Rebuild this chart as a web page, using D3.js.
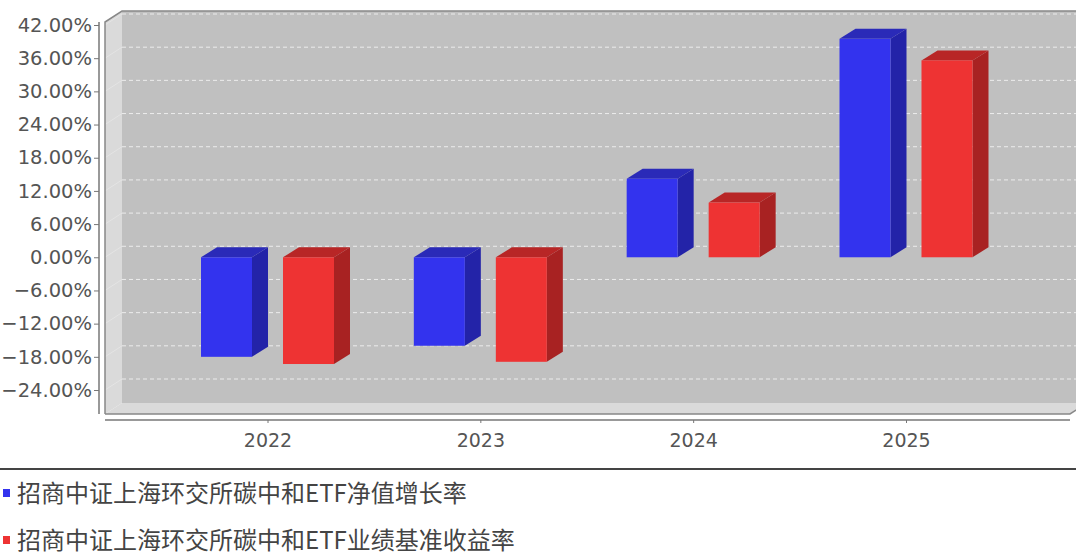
<!DOCTYPE html>
<html><head><meta charset="utf-8">
<script src="https://cdn.jsdelivr.net/npm/d3@7"></script>
<style>html,body{margin:0;padding:0;background:#fff;}svg{display:block;}</style>
</head><body>
<svg id="c" width="1076" height="560"></svg>
<script>
const years = ["2022","2023","2024","2025"];
const seriesNames = ["招商中证上海环交所碳中和ETF净值增长率","招商中证上海环交所碳中和ETF业绩基准收益率"];
const navGrowth = [-18.0, -16.0, 14.2, 39.5];
const benchmark = [-19.3, -18.9, 9.9, 35.6];
const yTicks = [42,36,30,24,18,12,6,0,-6,-12,-18,-24];

const colors = [
  {front:"#3333ee", side:"#2323a8", top:"#2a2ab8"},
  {front:"#ee3333", side:"#a82222", top:"#b82626"}
];

const svg = d3.select("#c");
const W = 1076;
const fx0 = 105, fx1 = 1070, fy0 = 22, fy1 = 414; // front plane
const dx = 17, dy = 11; // wall depth
const bdx = 16, bdy = 10; // bar depth

const y = d3.scaleLinear().domain([-24, 42]).range([390, 25]);
const x = d3.scalePoint().domain(years).range([267.5, 906]);
const xi = d3.scaleBand().domain([0,1]).range([-66.5, 66.5]).paddingInner(0.378).paddingOuter(0);

const g = svg.append("g");
g.append("rect").attr("x", fx0+dx).attr("y", fy0-dy).attr("width", W+40-(fx0+dx)).attr("height", (fy1-dy)-(fy0-dy)).attr("fill","#c0c0c0");
g.append("polygon").attr("points", [[fx0,fy0],[fx0+dx,fy0-dy],[fx0+dx,fy1-dy],[fx0,fy1]].join(" ")).attr("fill","#dadada");
g.append("polygon").attr("points", [[fx0,fy1],[fx0+dx,fy1-dy],[fx1+dx,fy1-dy],[fx1,fy1]].join(" ")).attr("fill","#dadada");

g.selectAll("line.grid").data(yTicks).enter().append("line")
  .attr("x1", fx0+dx).attr("x2", W).attr("y1", d=>y(d)-dy).attr("y2", d=>y(d)-dy)
  .attr("stroke","#ececec").attr("stroke-width",1).attr("stroke-dasharray","4,3");
g.selectAll("line.lgrid").data(yTicks).enter().append("line")
  .attr("x1", fx0).attr("x2", fx0+dx).attr("y1", d=>y(d)).attr("y2", d=>y(d)-dy)
  .attr("stroke","#e4e4e4").attr("stroke-width",1);

g.append("path").attr("d", `M${fx0},${fy1}L${fx0},${fy0}L${fx0+dx},${fy0-dy}L${W},${fy0-dy}`)
  .attr("fill","none").attr("stroke","#888").attr("stroke-width",1.5);
g.append("path").attr("d", `M${fx0},${fy1}L${fx1},${fy1}L${fx1+dx},${fy1-dy}`)
  .attr("fill","none").attr("stroke","#888").attr("stroke-width",1.5);

const data = [];
years.forEach((yr,i)=>{
  [navGrowth[i], benchmark[i]].forEach((v,s)=>data.push({yr, s, v}));
});
const bars = g.selectAll("g.bar").data(data).enter().append("g");
bars.each(function(d){
  const sel = d3.select(this);
  const xl = x(d.yr) + xi(d.s), w = xi.bandwidth();
  const yt = y(Math.max(0,d.v)), yb = y(Math.min(0,d.v));
  const c = colors[d.s];
  sel.append("polygon").attr("points", [[xl+w,yt],[xl+w+bdx,yt-bdy],[xl+w+bdx,yb-bdy],[xl+w,yb]].join(" ")).attr("fill", c.side);
  sel.append("polygon").attr("points", [[xl,yt],[xl+bdx,yt-bdy],[xl+w+bdx,yt-bdy],[xl+w,yt]].join(" ")).attr("fill", c.top);
  sel.append("rect").attr("x", xl).attr("y", yt).attr("width", w).attr("height", yb-yt).attr("fill", c.front);
});

const ya = svg.append("g").attr("transform", `translate(99,0)`)
  .call(d3.axisLeft(y).tickValues(yTicks).tickFormat(d=>d3.format(".2f")(d)+"%").tickSize(5).tickSizeOuter(0));
ya.select(".domain").attr("d", `M0,${fy0}V${fy1}`).attr("stroke","#777").attr("stroke-width",1.5);
ya.selectAll(".tick line").attr("stroke","#777");
ya.selectAll(".tick text").attr("font-family","DejaVu Sans").attr("font-size","19.5px").attr("fill","#555").attr("x",-7);

const xa = svg.append("g").attr("transform", `translate(0,420)`)
  .call(d3.axisBottom(x).tickSize(3).tickSizeOuter(0));
xa.select(".domain").attr("d", `M${fx0},0H${fx1}`).attr("stroke","#777").attr("stroke-width",1.5);
xa.selectAll(".tick line").attr("stroke","#777");
xa.selectAll(".tick text").attr("font-family","DejaVu Sans").attr("font-size","19px").attr("fill","#555").attr("dy","1.1em");

svg.append("line").attr("x1",0).attr("x2",W).attr("y1",469).attr("y2",469).attr("stroke","#444").attr("stroke-width",2);
const lg = svg.selectAll("g.leg").data(seriesNames).enter().append("g")
  .attr("transform",(d,i)=>`translate(0,${493+i*47})`);
lg.append("rect").attr("x",3).attr("y",-4).attr("width",7).attr("height",8).attr("fill",(d,i)=>colors[i].front);
lg.append("text").attr("x",17).attr("y",0).attr("dy","0.36em").text(d=>d)
  .attr("font-family","Noto Sans CJK SC").attr("font-size","24px").attr("fill","#444");
</script>
</body></html>
